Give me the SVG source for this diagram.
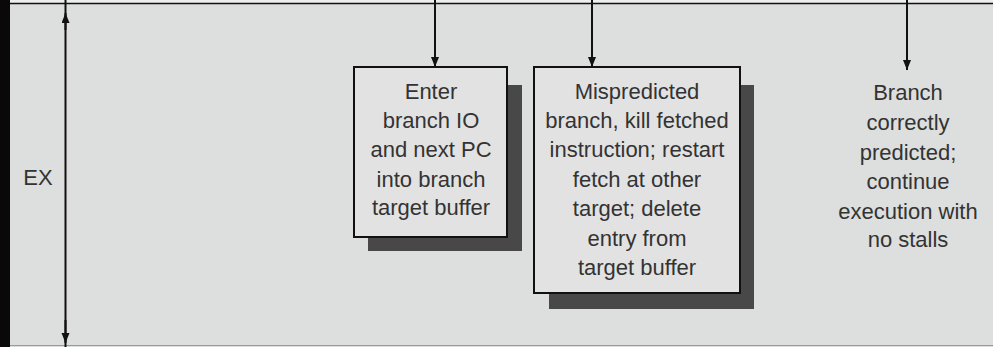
<svg xmlns="http://www.w3.org/2000/svg" width="993" height="347" viewBox="0 0 993 347">
<style>
.t{font-family:"Liberation Sans",Arial,sans-serif;font-size:22px;fill:#333;text-anchor:middle}
.box{fill:#e2e2e2;stroke:#111;stroke-width:2}
.sh{fill:#484848}
.c{stroke:#111;stroke-width:2;fill:none}
</style>
<defs>
<marker id="ah" markerUnits="userSpaceOnUse" markerWidth="10" markerHeight="12" refX="10" refY="4" orient="auto-start-reverse">
<path d="M0,0 L10,4 L0,8 z" fill="#111"/>
</marker>
</defs>
<rect x="0" y="0" width="993" height="347" fill="#dcdfdd"/>
<rect x="0" y="0" width="993" height="3" fill="#eeeeee"/>
<rect x="0" y="0" width="10" height="347" fill="#0a0808"/>
<line x1="10" y1="3.5" x2="993" y2="3.5" stroke="#111" stroke-width="1.5"/>
<line x1="10" y1="345.5" x2="993" y2="345.5" stroke="#999" stroke-width="1"/>
<g id="ex">
<text class="t" x="38" y="185">EX</text>
</g>
<g id="connectors">
<line x1="65.5" y1="0" x2="65.5" y2="347" class="c"/>
<path d="M65.5,30 L65.5,13" class="c" marker-end="url(#ah)"/>
<path d="M65.5,320 L65.5,343" class="c" marker-end="url(#ah)"/>
<path d="M435,0 L435,67" class="c" marker-end="url(#ah)"/>
<path d="M592,0 L592,67" class="c" marker-end="url(#ah)"/>
<path d="M907,0 L907,70" class="c" marker-end="url(#ah)"/>
</g>
<g id="node1">
<rect class="sh" x="368" y="85" width="154" height="166"/>
<rect class="box" x="354" y="67" width="153" height="170"/>
<text class="t" x="431" y="99">Enter</text>
<text class="t" x="431" y="128">branch IO</text>
<text class="t" x="431" y="157">and next PC</text>
<text class="t" x="431" y="187">into branch</text>
<text class="t" x="431" y="215">target buffer</text>
</g>
<g id="node2">
<rect class="sh" x="549" y="85" width="205" height="224"/>
<rect class="box" x="534" y="67" width="206" height="226"/>
<text class="t" x="637" y="99">Mispredicted</text>
<text class="t" x="637" y="128">branch, kill fetched</text>
<text class="t" x="637" y="157">instruction; restart</text>
<text class="t" x="637" y="187">fetch at other</text>
<text class="t" x="637" y="216">target; delete</text>
<text class="t" x="637" y="246">entry from</text>
<text class="t" x="637" y="275">target buffer</text>
</g>
<g id="node3">
<text class="t" x="908" y="100">Branch</text>
<text class="t" x="908" y="130">correctly</text>
<text class="t" x="908" y="160">predicted;</text>
<text class="t" x="908" y="189">continue</text>
<text class="t" x="908" y="219">execution with</text>
<text class="t" x="908" y="247">no stalls</text>
</g>
</svg>
